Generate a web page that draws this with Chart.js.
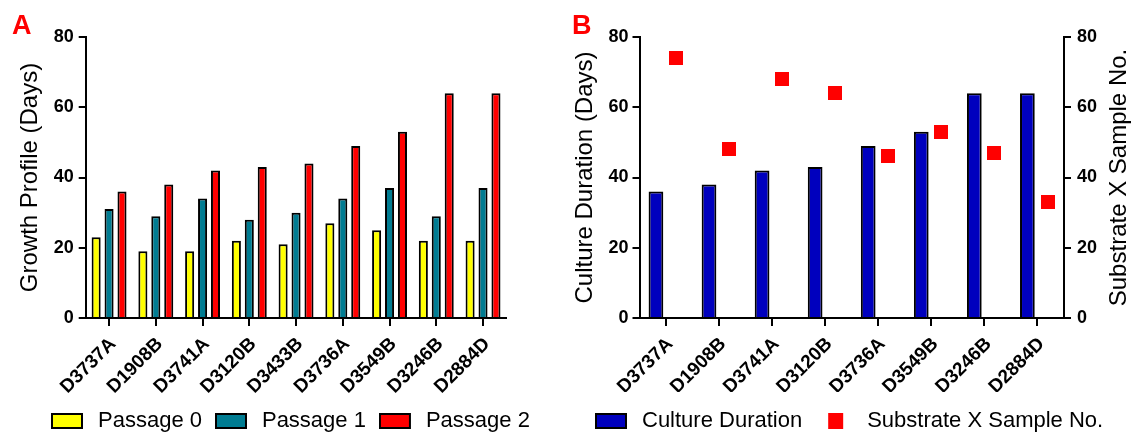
<!DOCTYPE html>
<html><head><meta charset="utf-8">
<script src="https://cdn.jsdelivr.net/npm/chart.js@4.4.1/dist/chart.umd.min.js"></script>
<style>
html,body{margin:0;padding:0;background:#fff;overflow:hidden;width:1144px;height:434px;}
#wrap{position:relative;width:1144px;height:434px;overflow:hidden;background:#fff;}
canvas{position:absolute;top:0;}
#cA{left:0;} #cB{left:565px;}
.lab{position:absolute;font:bold 27px "Liberation Sans",Arial,sans-serif;color:#ff0000;line-height:27px;}
</style></head>
<body><div id="wrap">
<canvas id="cA" width="565" height="442"></canvas>
<canvas id="cB" width="579" height="442"></canvas>
<div class="lab" style="left:12px;top:12px">A</div>
<div class="lab" style="left:572px;top:12px">B</div>
</div>
<script>
// ---- data ----
const samplesA = ['D3737A','D1908B','D3741A','D3120B','D3433B','D3736A','D3549B','D3246B','D2884D'];
const passage0 = [23,19,19,22,21,27,25,22,22];
const passage1 = [31,29,34,28,30,34,37,29,37];
const passage2 = [36,38,42,43,44,49,53,64,64];

const samplesB = ['D3737A','D1908B','D3741A','D3120B','D3736A','D3549B','D3246B','D2884D'];
const cultureDuration = [36,38,42,43,49,53,64,64];
const substrateX = [74,48,68,64,46,53,47,33];

const yTicks = [0,20,40,60,80];

// ---- styling ----
const F = '"Liberation Sans", Arial, sans-serif';
const BLACK = '#000';

function swatch(fill, kind){
  const c = document.createElement('canvas'); c.width = 36; c.height = 16;
  const g = c.getContext('2d');
  if (kind === 'box'){
    g.fillStyle = fill; g.fillRect(0,0,32,16);
    g.strokeStyle = '#000'; g.lineWidth = 2; g.strokeRect(1,1,30,14);
  } else {
    g.fillStyle = fill; g.fillRect(8,0,15,16);
  }
  return c;
}

function legendOpts(pad){
  return {
    display:true, position:'bottom', align:'start',
    labels:{
      usePointStyle:true, pointStyleWidth:36, boxHeight:16, padding:pad,
      color:'#222', font:{family:F, size:22},
      generateLabels(chart){
        return chart.data.datasets.map((ds,i)=>({
          text: ds.label, datasetIndex:i, hidden:false, lineWidth:0,
          fillStyle: ds.legendColor, strokeStyle:'rgba(0,0,0,0)',
          pointStyle: swatch(ds.legendColor, ds.legendKind)
        }));
      }
    }
  };
}

function xScale(h){
  return {
    offset:true,
    grid:{display:true, drawOnChartArea:false, drawTicks:true, offset:false, tickLength:8, color:BLACK, lineWidth:2},
    border:{display:true, color:BLACK, width:2, z:1},
    ticks:{color:BLACK, font:{family:F, size:19, weight:'bold'}, minRotation:45, maxRotation:45, autoSkip:false, padding:7, labelOffset:4},
    afterFit(s){ s.height = h; }
  };
}
function yScale(opts){
  return Object.assign({
    min:0, max:80,
    afterBuildTicks(s){ s.ticks = yTicks.map(v=>({value:v})); },
    grid:{display:true, drawOnChartArea:false, drawTicks:true, tickLength:7, color:BLACK, lineWidth:2},
    border:{display:true, color:BLACK, width:2},
  }, opts);
}

// ---- Panel A ----
new Chart(document.getElementById('cA'), {
  type:'bar',
  data:{
    labels: samplesA,
    datasets:[
      {label:'Passage 0', data:passage0, backgroundColor:'#FFFF00', legendColor:'#FFFF00', legendKind:'box', borderColor:BLACK, borderWidth:2},
      {label:'Passage 1', data:passage1, backgroundColor:'#007C92', legendColor:'#007C92', legendKind:'box', borderColor:BLACK, borderWidth:2},
      {label:'Passage 2', data:passage2, backgroundColor:'#FF0000', legendColor:'#FF0000', legendKind:'box', borderColor:BLACK, borderWidth:2}
    ]
  },
  options:{
    responsive:false, animation:false,
    layout:{padding:{left:38, top:37, right:0, bottom:0}},
    datasets:{bar:{categoryPercentage:0.83, barPercentage:0.7}},
    plugins:{legend:legendOpts(13), tooltip:{enabled:false}, title:{display:false}},
    scales:{
      x: xScale(79),
      y: yScale({
        ticks:{color:BLACK, font:{family:F, size:18, weight:'bold'}, padding:5},
        title:{display:true, text:'Growth Profile (Days)', color:BLACK, font:{family:F, size:24, lineHeight:1}, padding:{top:-20, bottom:0}},
        afterFit(s){ s.width = 47.7; }
      }),
      // empty right margin of panel A (no marks)
      yMargin:{
        position:'right', display:true,
        grid:{display:false}, border:{display:false}, ticks:{display:false},
        afterFit(s){ s.width = 58.6; }
      }
    }
  }
});

// ---- Panel B ----
const squareMarkers = {
  id:'squareMarkers',
  afterDatasetsDraw(chart){
    const meta = chart.getDatasetMeta(1);
    const ctx = chart.ctx;
    ctx.save();
    ctx.fillStyle = chart.data.datasets[1].legendColor;
    meta.data.forEach(el => { ctx.fillRect(Math.round(el.x - 7), Math.round(el.y - 7), 14, 14); });
    ctx.restore();
  }
};
const rightTitle = {
  id:'rightTitle',
  afterDraw(chart){
    const s = chart.scales.y1; const ctx = chart.ctx;
    ctx.save();
    ctx.translate(s.left + 55, (s.top + s.bottom)/2);
    ctx.rotate(-Math.PI/2);
    ctx.font = '24px ' + F; ctx.fillStyle = BLACK;
    ctx.textAlign = 'center'; ctx.textBaseline = 'middle';
    ctx.fillText('Substrate X Sample No.', 0, 0);
    ctx.restore();
  }
};

new Chart(document.getElementById('cB'), {
  type:'bar',
  data:{
    labels: samplesB,
    datasets:[
      {label:'Culture Duration', data:cultureDuration, yAxisID:'y', backgroundColor:'#0000BE', legendColor:'#0000BE', legendKind:'box', borderColor:BLACK, borderWidth:2},
      {label:'Substrate X Sample No.', data:substrateX, yAxisID:'y1', backgroundColor:'rgba(0,0,0,0)', borderWidth:0, legendColor:'#FF0000', legendKind:'square'}
    ]
  },
  options:{
    responsive:false, animation:false,
    layout:{padding:{left:12, top:37, right:0, bottom:0}},
    datasets:{bar:{categoryPercentage:0.76, barPercentage:0.73}},
    plugins:{legend:legendOpts(18), tooltip:{enabled:false}, title:{display:false}},
    scales:{
      x: xScale(74),
      y: yScale({
        position:'left',
        ticks:{color:BLACK, font:{family:F, size:18, weight:'bold'}, padding:4},
        title:{display:true, text:'Culture Duration (Days)', color:BLACK, font:{family:F, size:24, lineHeight:1}, padding:{top:-4, bottom:0}},
        afterFit(s){ s.width = 62.5; }
      }),
      y1: yScale({
        position:'right',
        ticks:{color:BLACK, font:{family:F, size:18, weight:'bold'}, padding:6},
        afterFit(s){ s.width = 80; }
      })
    }
  },
  plugins:[squareMarkers, rightTitle]
});
</script>
</body></html>
